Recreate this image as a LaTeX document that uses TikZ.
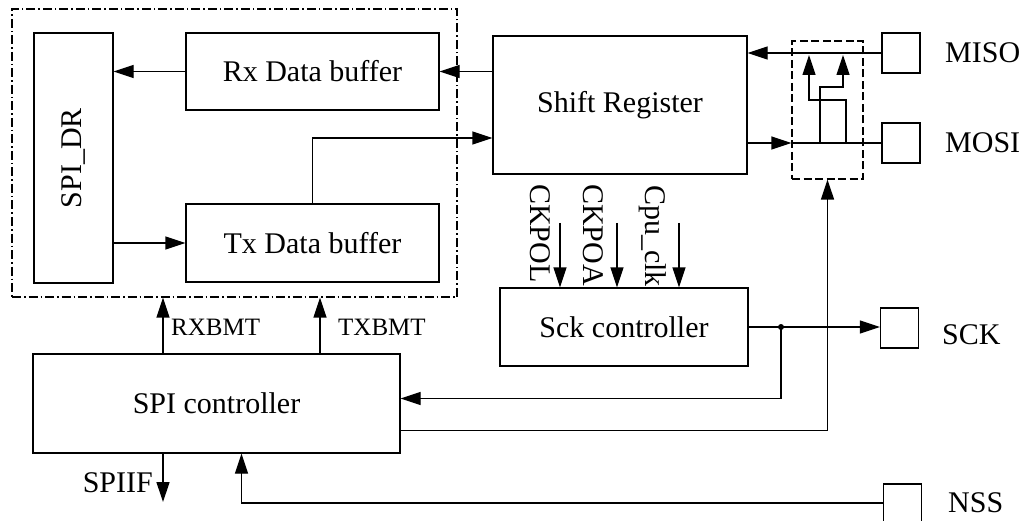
\documentclass[tikz,border=0pt]{standalone}
\usepackage{fontspec}
\setmainfont{Liberation Serif}
\usetikzlibrary{arrows.meta,calc}
\begin{document}
\begin{tikzpicture}[x=1pt,y=-1pt,
  every node/.style={font=\fontsize{30}{36}\selectfont},
  box/.style={draw, line width=1.3pt, inner sep=0pt},
  pin/.style={draw, line width=1.3pt, inner sep=0pt, minimum width=38pt, minimum height=40pt},
  wire/.style={line width=1.3pt},
  arr/.style={line width=1.3pt, -{Triangle[length=20pt,width=13pt]}},
  lbl/.style={inner sep=0pt},
  small/.style={inner sep=0pt, font=\fontsize{25}{30}\selectfont},
]
\useasboundingbox (0,0) rectangle (1024,521);
\fill[white] (0,0) rectangle (1024,521);

% dash-dot group box
\node[box, line width=1.1pt, dash pattern=on 9pt off 3pt on 1.5pt off 3pt, minimum width=445pt, minimum height=288pt] (dd) at (234.5,153) {};
\node[box, minimum width=79pt, minimum height=250pt] (dr) at (73.5,158) {};
\node[lbl, rotate=90] (drl) at (dr.center) {SPI\_DR};
\node[box, minimum width=253pt, minimum height=77pt] (rx) at (312.5,71.5) {Rx Data buffer};
\node[box, minimum width=253pt, minimum height=78pt] (tx) at (312.5,243) {Tx Data buffer};

\node[box, minimum width=254pt, minimum height=138pt] (sr) at (620,105) {Shift Register};
\node[box, line width=1.1pt, dash pattern=on 8pt off 3.5pt, minimum width=71pt, minimum height=138pt] (db) at (827.5,110) {};

\node[pin] (miso) at (901,53) {};
\node[pin] (mosi) at (901,143) {};
\node[pin] (sckpin) at (899.5,328) {};
\node[pin, minimum height=38pt] (nsspin) at (902.5,503) {};

\node[lbl, anchor=west] (misol) at (945,53) {MISO};
\node[lbl, anchor=west] (mosil) at (945,143) {MOSI};
\node[lbl, anchor=west] (sckl) at (942,335) {SCK};
\node[lbl, anchor=west] (nssl) at (948,503) {NSS};

\node[box, minimum width=248pt, minimum height=78pt] (sck) at (624,327) {Sck controller};
\node[box, minimum width=367pt, minimum height=99pt] (spi) at (216.5,403.5) {SPI controller};

% rotated control labels
\node[lbl, rotate=-90, anchor=base west] (ckpol) at (530,184) {CKPOL};
\node[lbl, rotate=-90, anchor=base west] (ckpoa) at (583,184) {CKPOA};
\node[lbl, rotate=-90, anchor=base west] (cpuclk) at (645,185) {Cpu\_clk};

\node[small, anchor=west] (rxbmt) at (171,327) {RXBMT};
\node[small, anchor=west] (txbmt) at (338,327) {TXBMT};
\node[lbl, anchor=east] (spiif) at (153,483) {SPIIF};

% coordinates
\coordinate (c1) at (560,223);
\coordinate (c2) at (617,223);
\coordinate (c3) at (679,223);
\coordinate (p1) at (820,143);
\coordinate (p2) at (843,87);
\coordinate (p3) at (843,55);
\coordinate (q1) at (846,143);
\coordinate (q2) at (809,100);
\coordinate (q3) at (809,55);
\coordinate (j) at (781,327);
\coordinate (rxb) at (163,353.5);
\coordinate (txb) at (320,353.5);
\coordinate (ifo) at (163,502);

% connectors
\draw[arr] (rx.west) -- (rx.west -| dr.east);
\draw[arr] (tx.west -| dr.east) -- (tx.west);
\draw[arr] (tx.north) |- ([yshift=-33pt]sr.west);
\draw[arr] (sr.west |- rx.east) -- (rx.east);
\draw[arr] (miso.west) -- (miso.west -| sr.east);
\draw[arr] (sr.east |- mosi.west) -- (mosi.west -| db.west);
\draw[wire] (mosi.west -| db.west) -- (mosi.west);
\draw[arr] (p1) |- (p2) -- (p3);
\draw[arr] (q1) |- (q2) -- (q3);

\draw[arr] (c1) -- (c1 |- sck.north);
\draw[arr] (c2) -- (c2 |- sck.north);
\draw[arr] (c3) -- (c3 |- sck.north);

\draw[arr] (sck.east) -- (sck.east -| sckpin.west);
\fill (j) circle (3pt);
\draw[arr] (j) |- ([yshift=5pt]spi.east);
\draw[arr] ([yshift=-27pt]spi.east) -| (db.south);

\draw[arr] (rxb) -- (rxb |- dd.south);
\draw[arr] (txb) -- (txb |- dd.south);
\draw[arr] (rxb |- spi.south) -- (ifo);
\draw[arr] (nsspin.west) -| ([xshift=25pt]spi.south);
\end{tikzpicture}
\end{document}
